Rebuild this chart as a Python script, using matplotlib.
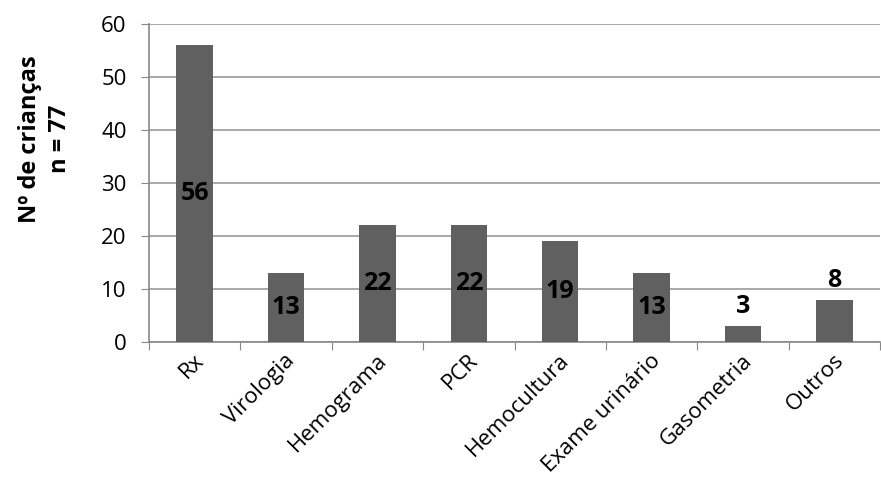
import matplotlib
matplotlib.use('Agg')
import matplotlib.pyplot as plt
import matplotlib.transforms as mtransforms
import numpy as np

plt.rcParams['font.family'] = ['Open Sans', 'DejaVu Sans']

exames = ['Rx', 'Virologia', 'Hemograma', 'PCR', 'Hemocultura',
          'Exame urinário', 'Gasometria', 'Outros']
criancas = [56, 13, 22, 22, 19, 13, 3, 8]

fig = plt.figure(figsize=(8.81, 4.86), dpi=100)
ax = fig.add_axes([0.169, 0.296, 0.83, 0.655])

x = np.arange(len(exames))
bars = ax.bar(x, criancas, width=0.4, color='#606060', zorder=3)

ax.set_xlim(-0.5, len(exames) - 0.5)
ax.set_ylim(0, 60)
ax.set_yticks(range(0, 61, 10))
ax.tick_params(axis='y', labelsize=16, length=6, color='#888888', pad=10)
ax.yaxis.grid(True, color='#999999', lw=1.2, zorder=0)

# categorias com marcas entre as barras, rótulos rodados
ax.set_xticks(np.arange(-0.5, len(exames), 1.0))
ax.set_xticklabels([])
ax.set_xticks(x, minor=True)
ax.set_xticklabels(exames, minor=True, rotation=45, ha='right',
                   va='center', rotation_mode='anchor', fontsize=16)
ax.tick_params(axis='x', which='major', length=6, color='#888888')
ax.tick_params(axis='x', which='minor', length=0, pad=11)
shift = mtransforms.ScaledTranslation(6 / 100, 0, fig.dpi_scale_trans)
for lbl in ax.get_xticklabels(minor=True):
    lbl.set_transform(lbl.get_transform() + shift)

for s in ['top', 'right']:
    ax.spines[s].set_visible(False)
for s in ['left', 'bottom']:
    ax.spines[s].set_color('#888888')
    ax.spines[s].set_linewidth(1.2)

# valores: dentro da barra ao centro, ou acima se a barra for baixa
for xi, v in zip(x, criancas):
    if v >= 10:
        ax.text(xi, v / 2, str(v), ha='center', va='center',
                fontsize=18, fontweight='bold', zorder=4)
    else:
        ax.text(xi, v + 1.3, str(v), ha='center', va='bottom',
                fontsize=18, fontweight='bold', zorder=4)

fig.text(45 / 881, 1 - 139 / 486, 'Nº de crianças\nn = 77', rotation=90,
         ha='center', va='center', fontsize=17, fontweight='bold',
         linespacing=1.3, multialignment='center')

fig.savefig('out.png', dpi=100, facecolor='white')
